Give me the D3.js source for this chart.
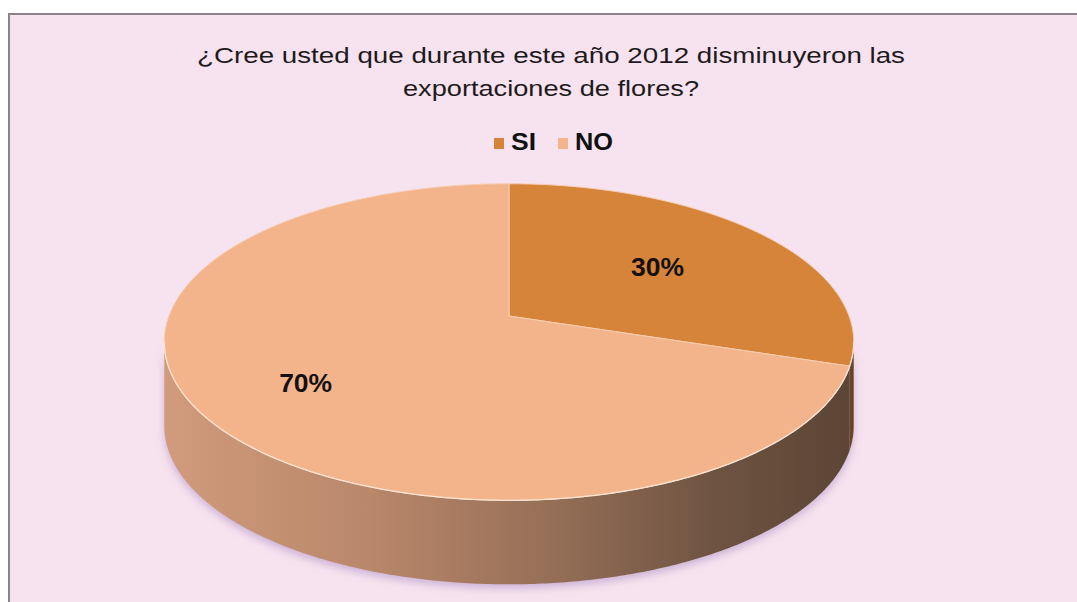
<!DOCTYPE html>
<html>
<head>
<meta charset="utf-8">
<script src="https://cdn.jsdelivr.net/npm/d3@7/dist/d3.min.js"></script>
<style>
  html, body { margin: 0; padding: 0; background: #ffffff; }
  svg { display: block; }
</style>
</head>
<body>
<script>
// Survey answers
const categories = ["SI", "NO"];
const values = [30, 70];
const valueLabels = ["30%", "70%"];
const titleLines = ["¿Cree usted que durante este año 2012 disminuyeron las", "exportaciones de flores?"];

const W = 1077, H = 602;
const topColors = ["#d6843a", "#f3b48c"];

// Tilted disc: screen = homography of the unit circle
const disc = { cx: 509, cy: 316, a: 340, b: 154, k: 0.1645, depth: 84 };
const labelRadius = [0.57, 0.69];

function proj(theta, r, dy) {
  const u = r * Math.sin(theta), v = -r * Math.cos(theta);
  const w = 1 - disc.k * v;
  return [disc.cx + disc.a * u / w, disc.cy + disc.b * v / w + (dy || 0)];
}
function arcPoints(t0, t1, r, dy) {
  const n = Math.max(2, Math.ceil(Math.abs(t1 - t0) / 0.01));
  return d3.range(n + 1).map(i => proj(t0 + (t1 - t0) * i / n, r, dy));
}

const svg = d3.select("body").append("svg").attr("width", W).attr("height", H);
const defs = svg.append("defs");

// Frame
svg.append("rect").attr("x", 9).attr("y", 14).attr("width", 1110).attr("height", 640)
  .attr("fill", "#f7e3ef").attr("stroke", "#8a8387").attr("stroke-width", 2);

// Title
const titleSizes = [708, 296];
svg.append("g").selectAll("text").data(titleLines).join("text")
  .attr("x", 551).attr("y", (d, i) => 63 + i * 33)
  .attr("text-anchor", "middle")
  .attr("font-family", "Liberation Sans, Arial, sans-serif")
  .attr("font-size", 22).attr("fill", "#1e1a1c")
  .attr("textLength", (d, i) => titleSizes[i])
  .attr("lengthAdjust", "spacingAndGlyphs")
  .text(d => d);

// Legend
const legendX = [494, 558], legendW = [25, 38];
const legend = svg.append("g").selectAll("g").data(categories).join("g")
  .attr("transform", (d, i) => `translate(${legendX[i]},0)`);
legend.append("rect").attr("x", 0).attr("y", 138).attr("width", 10).attr("height", 11)
  .attr("fill", (d, i) => topColors[i]);
legend.append("text").attr("x", 17).attr("y", 150)
  .attr("font-family", "Liberation Sans, Arial, sans-serif").attr("font-weight", "bold")
  .attr("font-size", 23).attr("fill", "#111")
  .attr("textLength", (d, i) => legendW[i]).attr("lengthAdjust", "spacingAndGlyphs")
  .text(d => d);

// Slice angles
const pie = d3.pie().sort(null).startAngle(0).endAngle(2 * Math.PI);
const arcs = pie(values);
const line = d3.line();

// Rim gradients, one per slice (SI darker orange, NO tan to brown)
const rimStops = [
  [["0%", "#b0703a"], ["100%", "#6a4225"]],
  [["0%", "#d19b7c"], ["30%", "#b9876a"], ["55%", "#977058"], ["80%", "#6e5341"], ["100%", "#5b4535"]]
];
rimStops.forEach((stops, i) => {
  const g = defs.append("linearGradient").attr("id", "rim" + i)
    .attr("gradientUnits", "userSpaceOnUse")
    .attr("x1", disc.cx - 345).attr("x2", disc.cx + 345).attr("y1", 0).attr("y2", 0);
  stops.forEach(s => g.append("stop").attr("offset", s[0]).attr("stop-color", s[1]));
});
defs.append("filter").attr("id", "soft").attr("x", "-10%").attr("y", "-20%")
  .attr("width", "120%").attr("height", "140%")
  .append("feGaussianBlur").attr("stdDeviation", 4);

// Visible front of the rim
const tR = Math.acos(-disc.k), tL = 2 * Math.PI - tR;

// Soft shadow under the disc
const shadowPts = arcPoints(tR, tL, 1.0, disc.depth + 4);
svg.append("path")
  .attr("d", line(arcPoints(tR, tL, 1, 0).concat(shadowPts.reverse())) + "Z")
  .attr("fill", "rgba(150,120,185,0.45)").attr("filter", "url(#soft)");

// Rim pieces
arcs.forEach((a, i) => {
  const t0 = Math.max(a.startAngle, tR), t1 = Math.min(a.endAngle, tL);
  if (t1 <= t0) return;
  const topArc = arcPoints(t0, t1, 1, 0);
  const botArc = arcPoints(t0, t1, 1, disc.depth).reverse();
  svg.append("path").attr("d", line(topArc.concat(botArc)) + "Z")
    .attr("fill", `url(#rim${i})`);
});

// Top faces
arcs.forEach((a, i) => {
  const pts = [proj(0, 0)].concat(arcPoints(a.startAngle, a.endAngle, 1, 0));
  svg.append("path").attr("d", line(pts) + "Z")
    .attr("fill", topColors[i])
    .attr("stroke", "#f6cdb0").attr("stroke-width", 1).attr("stroke-linejoin", "round");
});

// Light edge along the front rim
svg.append("path").attr("d", line(arcPoints(tR, tL, 1, 0)))
  .attr("fill", "none").attr("stroke", "#fbe4d2").attr("stroke-width", 1.3);

// Value labels
svg.append("g").selectAll("text").data(arcs).join("text")
  .attr("transform", (a, i) => {
    const p = proj((a.startAngle + a.endAngle) / 2, labelRadius[i], 0);
    return `translate(${p[0]},${p[1] + 9})`;
  })
  .attr("text-anchor", "middle")
  .attr("font-family", "Liberation Sans, Arial, sans-serif").attr("font-weight", "bold")
  .attr("font-size", 25).attr("fill", "#141012")
  .attr("textLength", 53).attr("lengthAdjust", "spacingAndGlyphs")
  .text((a, i) => valueLabels[i]);
</script>
</body>
</html>
